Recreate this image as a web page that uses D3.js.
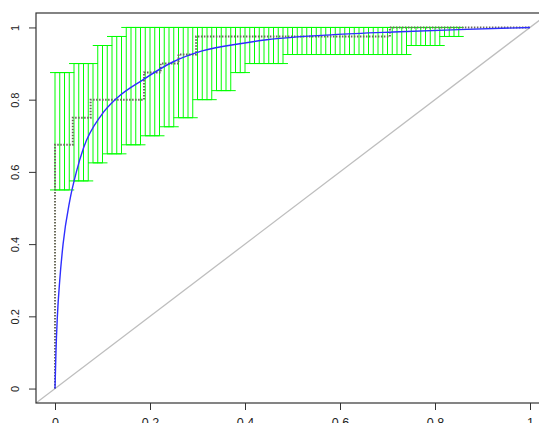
<!DOCTYPE html>
<html>
<head>
<meta charset="utf-8">
<script src="https://cdn.jsdelivr.net/npm/d3@7"></script>
<style>
  html, body { margin: 0; padding: 0; background: #fff; }
  svg { display: block; }
  text { font-family: "Liberation Sans", Arial, Helvetica, sans-serif; fill: #222; }
</style>
</head>
<body>
<svg id="chart" width="539" height="423"></svg>
<script>
// ---- data ----
const xTickValues = [0, 0.2, 0.4, 0.6, 0.8, 1];
const xTickLabels = ["0", "0.2", "0.4", "0.6", "0.8", "1"];
const yTickValues = [0, 0.2, 0.4, 0.6, 0.8, 1];
const yTickLabels = ["0", "0.2", "0.4", "0.6", "0.8", "1"];

// confidence-interval bar positions (false positive rate)
const ciX = [0.00,0.01,0.02,0.03,0.04,0.05,0.06,0.07,0.08,0.09,
             0.10,0.11,0.12,0.13,0.14,0.15,0.16,0.17,0.18,0.19,
             0.20,0.21,0.22,0.23,0.24,0.25,0.26,0.27,0.28,0.29,
             0.30,0.31,0.32,0.33,0.34,0.35,0.36,0.37,0.38,0.39,
             0.40,0.41,0.42,0.43,0.44,0.45,0.46,0.47,0.48,0.49,
             0.50,0.51,0.52,0.53,0.54,0.55,0.56,0.57,0.58,0.59,
             0.60,0.61,0.62,0.63,0.64,0.65,0.66,0.67,0.68,0.69,
             0.70,0.71,0.72,0.73,0.74,0.75,0.76,0.77,0.78,0.79,
             0.80,0.81,0.82,0.83,0.84,0.85];
const ciLower = [0.55,0.55,0.55,0.55,0.575,0.575,0.575,0.575,0.625,0.625,
                 0.625,0.65,0.65,0.65,0.65,0.675,0.675,0.675,0.675,0.70,
                 0.70,0.70,0.70,0.725,0.725,0.725,0.75,0.75,0.75,0.75,
                 0.80,0.80,0.80,0.80,0.825,0.825,0.825,0.825,0.875,0.875,
                 0.875,0.90,0.90,0.90,0.90,0.90,0.90,0.90,0.90,0.925,
                 0.925,0.925,0.925,0.925,0.925,0.925,0.925,0.925,0.925,0.925,
                 0.925,0.925,0.925,0.925,0.925,0.925,0.925,0.925,0.925,0.925,
                 0.925,0.925,0.925,0.925,0.925,0.95,0.95,0.95,0.95,0.95,
                 0.95,0.95,0.975,0.975,0.975,0.975];
const ciUpper = [0.875,0.875,0.875,0.875,0.90,0.90,0.90,0.90,0.90,0.95,
                 0.95,0.95,0.975,0.975,0.975,1,1,1,1,1,
                 1,1,1,1,1,1,1,1,1,1,
                 1,1,1,1,1,1,1,1,1,1,
                 1,1,1,1,1,1,1,1,1,1,
                 1,1,1,1,1,1,1,1,1,1,
                 1,1,1,1,1,1,1,1,1,1,
                 1,1,1,1,1,1,1,1,1,1,
                 1,1,1,1,1,1];

// empirical ROC curve (step vertices)
const rocFPR = [0, 0, 0.0375, 0.075, 0.1875, 0.2225, 0.26, 0.297, 0.705, 1];
const rocTPR = [0, 0.675, 0.75, 0.80, 0.875, 0.90, 0.925, 0.975, 1, 1];

// smoothed ROC curve
const smoothFPR = [0, 0.001, 0.002, 0.005, 0.010, 0.017, 0.031, 0.045, 0.060, 0.098,
                   0.130, 0.185, 0.249, 0.310, 0.389, 0.446, 0.586, 0.726, 0.850, 1];
const smoothTPR = [0, 0.05, 0.10, 0.20, 0.30, 0.40, 0.52, 0.60, 0.666, 0.758,
                   0.804, 0.855, 0.905, 0.935, 0.955, 0.966, 0.980, 0.988, 0.994, 1];

// ---- drawing ----
const svg = d3.select("#chart");
const x = d3.scaleLinear().domain([-0.04, 1.04]).range([36, 549]);
const y = d3.scaleLinear().domain([-0.04, 1.04]).range([403, 13]);

svg.append("clipPath").attr("id", "plotclip")
  .append("rect").attr("x", 36).attr("y", 13).attr("width", 513).attr("height", 390);

const plot = svg.append("g").attr("clip-path", "url(#plotclip)");

// diagonal
plot.append("line")
  .attr("x1", x(-0.04)).attr("y1", y(-0.04))
  .attr("x2", x(1.04)).attr("y2", y(1.04))
  .attr("stroke", "#bebebe").attr("stroke-width", 1.3);

// CI bars
const capHalf = 0.0105;
const bars = plot.append("g").attr("stroke", "#00ff00").attr("stroke-width", 1);
ciX.forEach((cx, i) => {
  bars.append("line").attr("x1", x(cx)).attr("x2", x(cx))
    .attr("y1", y(ciLower[i])).attr("y2", y(ciUpper[i]));
  bars.append("line").attr("x1", x(cx - capHalf)).attr("x2", x(cx + capHalf))
    .attr("y1", y(ciLower[i])).attr("y2", y(ciLower[i]));
  bars.append("line").attr("x1", x(cx - capHalf)).attr("x2", x(cx + capHalf))
    .attr("y1", y(ciUpper[i])).attr("y2", y(ciUpper[i]));
});

// empirical ROC (dotted)
const rocPts = rocFPR.map((f, i) => [f, rocTPR[i]]);
plot.append("path")
  .attr("d", d3.line().x(d => x(d[0])).y(d => y(d[1])).curve(d3.curveStepAfter)(rocPts))
  .attr("fill", "none").attr("stroke", "#6a6a5a").attr("stroke-width", 2)
  .attr("stroke-dasharray", "1.5,1.5");

// smooth ROC
const smPts = smoothFPR.map((f, i) => [f, smoothTPR[i]]);
plot.append("path")
  .attr("d", d3.line().x(d => x(d[0])).y(d => y(d[1])).curve(d3.curveMonotoneX)(smPts))
  .attr("fill", "none").attr("stroke", "#2e2eff").attr("stroke-width", 1.4);

// box
svg.append("rect").attr("x", 36).attr("y", 13).attr("width", 513).attr("height", 390)
  .attr("fill", "none").attr("stroke", "#333").attr("stroke-width", 1.2);

// axes
const xAxis = svg.append("g").attr("transform", "translate(0,403)")
  .call(d3.axisBottom(x).tickValues(xTickValues)
    .tickFormat((d, i) => xTickLabels[i]).tickSize(7).tickPadding(8));
xAxis.select(".domain").remove();
xAxis.selectAll("line").attr("stroke", "#333");
xAxis.selectAll("text").attr("font-size", 12.5).attr("fill", "#222")
  .style("font-family", "'Liberation Sans', Arial, sans-serif");

const yAxis = svg.append("g").attr("transform", "translate(36,0)")
  .call(d3.axisLeft(y).tickValues(yTickValues)
    .tickFormat((d, i) => yTickLabels[i]).tickSize(7));
yAxis.select(".domain").remove();
yAxis.selectAll("line").attr("stroke", "#333");
yAxis.selectAll("text")
  .attr("font-size", 11).attr("fill", "#222")
  .style("font-family", "'Liberation Sans', Arial, sans-serif")
  .attr("text-anchor", "middle")
  .attr("transform", "rotate(-90)")
  .attr("x", 0).attr("y", -21).attr("dy", "0.35em");
</script>
</body>
</html>
